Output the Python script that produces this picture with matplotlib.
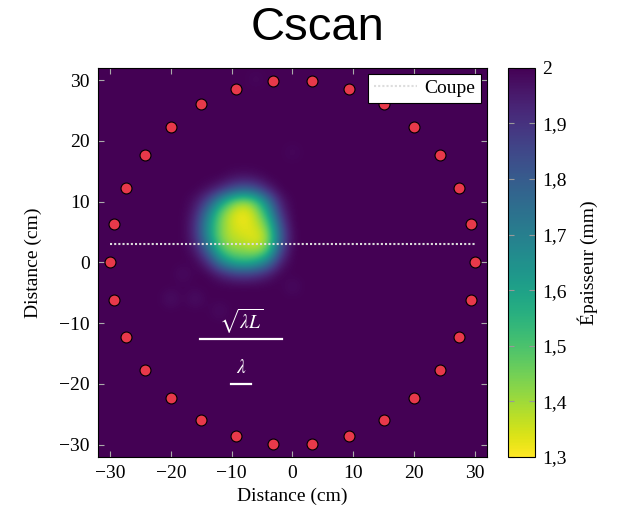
import matplotlib
matplotlib.use("Agg")
import matplotlib.pyplot as plt
import numpy as np
from matplotlib.ticker import FuncFormatter

plt.rcParams['font.family'] = ['Liberation Serif', 'DejaVu Serif']
plt.rcParams['mathtext.fontset'] = 'stix'

# sensor ring (angles in degrees, radius in cm)
sensor_angles = [0, 12, 24, 36, 48, 60, 72, 84, 96, 108, 120, 132, 144, 156, 168,
                 180, 192, 204, 216, 228, 240, 252, 264, 276, 288, 300, 312, 324, 336, 348]
sensor_radius = 30

# background grid (2 cm step), thickness 2 mm everywhere except the defect
grid = np.arange(-32, 33, 2)

# defect region (mm)
blob_x = [-16, -14, -12, -10, -8, -6, -4, -2, 0]
blob_y = [14, 12, 10, 8, 6, 4, 2, 0, -2]
blob_vals = [
    [2.00, 2.00, 2.00, 1.98, 1.97, 1.98, 2.00, 2.00, 2.00],
    [2.00, 1.98, 1.93, 1.85, 1.80, 1.84, 1.94, 2.00, 2.00],
    [1.97, 1.86, 1.65, 1.47, 1.40, 1.48, 1.72, 1.95, 2.00],
    [1.94, 1.72, 1.47, 1.35, 1.30, 1.38, 1.58, 1.90, 2.00],
    [1.91, 1.65, 1.45, 1.35, 1.32, 1.35, 1.47, 1.82, 2.00],
    [1.92, 1.67, 1.44, 1.37, 1.35, 1.32, 1.40, 1.78, 1.99],
    [1.96, 1.78, 1.52, 1.42, 1.42, 1.38, 1.47, 1.84, 2.00],
    [2.00, 1.92, 1.72, 1.58, 1.54, 1.58, 1.72, 1.94, 2.00],
    [2.00, 2.00, 1.95, 1.90, 1.88, 1.90, 1.95, 2.00, 2.00],
]

# faint lighter spots in the background
spot_x = [-20, -16, -12, -18, 0, 0, -6]
spot_y = [-6, -6, -8, -2, -4, 18, 30]
spot_vals = [1.96, 1.96, 1.97, 1.97, 1.97, 1.98, 1.98]

cut_y = 3
cut_x = [-30, 30]

field = np.full((len(grid), len(grid)), 2.0)
for i, yv in enumerate(blob_y):
    for j, xv in enumerate(blob_x):
        field[list(grid).index(yv), list(grid).index(xv)] = blob_vals[i][j]
for xv, yv, v in zip(spot_x, spot_y, spot_vals):
    field[list(grid).index(yv), list(grid).index(xv)] = v

fig = plt.figure(figsize=(6.21, 5.14), dpi=100)
ax = fig.add_axes([0.158, 0.111, 0.626, 0.757])
cax = fig.add_axes([0.818, 0.111, 0.0435, 0.757])

im = ax.imshow(field, origin='lower', extent=[-33, 33, -33, 33], cmap='viridis_r',
               vmin=1.3, vmax=2.0, interpolation='bicubic', aspect='auto')

ang = np.deg2rad(sensor_angles)
ax.scatter(sensor_radius * np.cos(ang), sensor_radius * np.sin(ang), s=62,
           color='#e8394a', edgecolors='black', linewidths=0.8, zorder=4)

ax.plot(cut_x, [cut_y, cut_y], linestyle=(0, (1, 1)), color='#dddddd', lw=1.5,
        label='Coupe', zorder=3)

# scale bars
ax.plot([-15.3, -1.7], [-12.6, -12.6], color='white', lw=1.6)
ax.text(-8.4, -9.8, r'$\sqrt{\lambda L}$', color='white', fontsize=14, ha='center', va='center')
ax.plot([-10.1, -6.9], [-20, -20], color='white', lw=1.6)
ax.text(-8.4, -17.3, r'$\lambda$', color='white', fontsize=14, ha='center', va='center')

ax.set_xlim(-32, 32)
ax.set_ylim(-32, 32)
ticks = [-30, -20, -10, 0, 10, 20, 30]
ax.set_xticks(ticks)
ax.set_yticks(ticks)
ax.tick_params(direction='in', top=True, right=True, length=4, color='#aaaaaa',
               labelsize=14, labelcolor='black', pad=6)
ax.set_xlabel('Distance (cm)', fontsize=14, labelpad=4)
ax.set_ylabel('Distance (cm)', fontsize=14, labelpad=12)

leg = ax.legend(loc='upper right', fontsize=14, fancybox=False, framealpha=1,
                edgecolor='black', borderaxespad=0.3, handlelength=2.2,
                handletextpad=0.4, borderpad=0.3)
leg.get_frame().set_linewidth(0.8)

cb = fig.colorbar(im, cax=cax)
cb.set_ticks([1.3, 1.4, 1.5, 1.6, 1.7, 1.8, 1.9, 2.0])
cb.ax.yaxis.set_major_formatter(FuncFormatter(lambda v, p: ('%g' % round(v, 1)).replace('.', ',')))
cb.ax.tick_params(direction='in', left=True, right=True, length=4, color='#999999',
                  labelsize=14, pad=5)
cb.set_label('Épaisseur (mm)', fontsize=14, labelpad=8)
cb.outline.set_linewidth(0.8)

fig.text(0.511, 0.945, 'Cscan', fontsize=34, family='Liberation Sans', ha='center', va='center')

fig.savefig('out.png', dpi=100)
